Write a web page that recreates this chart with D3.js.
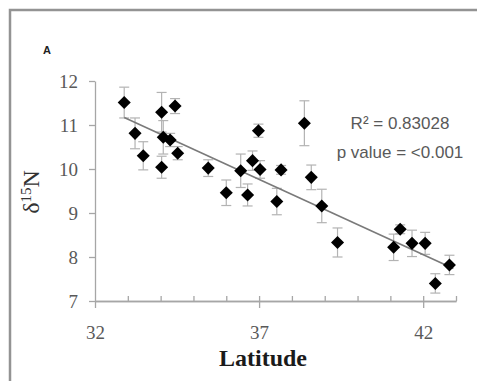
<!DOCTYPE html>
<html>
<head>
<meta charset="utf-8">
<script src="https://cdn.jsdelivr.net/npm/d3@7"></script>
<style>
  body { margin: 0; background: #fff; }
  .serif { font-family: "Liberation Serif", "Times New Roman", "DejaVu Serif", serif; }
  .sans { font-family: "Liberation Sans", Arial, sans-serif; }
</style>
</head>
<body>
<div id="viz"></div>
<script>
// latitude, d15N mean and error
const latitude = [32.89, 33.22, 33.47, 34.03, 34.44, 34.08, 34.03, 34.29, 34.52, 35.45,
                  36.00, 36.44, 36.65, 36.80, 36.98, 37.03, 37.54, 37.67, 38.38, 38.59,
                  38.91, 39.39, 41.10, 41.30, 41.66, 42.06, 42.37, 42.80];
const d15N = [11.51, 10.81, 10.30, 11.29, 11.43, 10.72, 10.04, 10.66, 10.36, 10.02,
              9.46, 9.96, 9.41, 10.19, 10.87, 9.99, 9.26, 9.98, 11.04, 9.81,
              9.16, 8.33, 8.22, 8.63, 8.31, 8.31, 7.40, 7.82];
const errs = [0.35, 0.35, 0.32, 0.45, 0.17, 0.38, 0.25, 0.15, 0.15, 0.19,
              0.29, 0.38, 0.25, 0.22, 0.15, 0.20, 0.30, 0.10, 0.51, 0.28,
              0.38, 0.33, 0.30, 0.10, 0.30, 0.25, 0.22, 0.22];

// trend line end points
const trendLat = [32.89, 42.92];
const trendVal = [11.17, 7.74];

const xMajor = [32, 37, 42];
const xMinor = [33, 34, 35, 36, 37, 38, 39, 40, 41, 42, 43];
const yTicks = [7, 8, 9, 10, 11, 12];

const width = 477, height = 381;

const svg = d3.select("#viz").append("svg")
    .attr("width", width)
    .attr("height", height);

// outer frame
svg.append("rect")
    .attr("x", 10).attr("y", 10)
    .attr("width", 520).attr("height", 420)
    .attr("fill", "none")
    .attr("stroke", "#939393")
    .attr("stroke-width", 2.5);

const x = d3.scaleLinear().domain([32, 43]).range([95, 456]);
const y = d3.scaleLinear().domain([7, 12]).range([301, 81]);

const axisColor = "#a6a6a6";
const labelColor = "#595959";

// y axis
const yAxis = svg.append("g")
    .attr("transform", "translate(" + x(32) + ",0)")
    .call(d3.axisLeft(y).tickValues(yTicks).tickSize(6).tickSizeOuter(0).tickPadding(11)
        .tickFormat(d3.format("d")));
yAxis.attr("font-family", null).attr("font-size", null);
yAxis.selectAll("text")
    .attr("class", "serif")
    .attr("font-size", 19)
    .attr("fill", labelColor);

// x axis: minor ticks inside, major crossing
const xTop = svg.append("g")
    .attr("transform", "translate(0," + y(7) + ")")
    .call(d3.axisTop(x).tickValues(xMinor).tickSize(5).tickSizeOuter(0).tickFormat(""));
const xBottom = svg.append("g")
    .attr("transform", "translate(0," + y(7) + ")")
    .call(d3.axisBottom(x).tickValues(xMajor).tickSize(7).tickSizeOuter(0).tickPadding(18)
        .tickFormat(d3.format("d")));
xBottom.attr("font-family", null).attr("font-size", null);
xBottom.selectAll("text")
    .attr("class", "serif")
    .attr("font-size", 19)
    .attr("fill", labelColor);

svg.selectAll(".domain, .tick line")
    .attr("stroke", axisColor)
    .attr("stroke-width", 1.3);

// axis titles
svg.append("text")
    .attr("class", "serif")
    .attr("x", 263)
    .attr("y", 366)
    .attr("text-anchor", "middle")
    .attr("font-size", 24)
    .attr("font-weight", "bold")
    .attr("fill", "#1a1a1a")
    .text("Latitude");

const yLab = svg.append("text")
    .attr("class", "serif")
    .attr("transform", "translate(39,192) rotate(-90)")
    .attr("text-anchor", "middle")
    .attr("font-size", 24)
    .attr("fill", "#333");
yLab.append("tspan").text("δ");
yLab.append("tspan").attr("dy", -8).attr("font-size", 15).text("15");
yLab.append("tspan").attr("dy", 8).text("N");

// panel letter
svg.append("text")
    .attr("class", "sans")
    .attr("x", 47).attr("y", 54)
    .attr("text-anchor", "middle")
    .attr("font-size", 11)
    .attr("font-weight", "bold")
    .attr("fill", "#222")
    .text("A");

// stats text
svg.append("text")
    .attr("class", "sans")
    .attr("x", 400).attr("y", 129)
    .attr("text-anchor", "middle")
    .attr("font-size", 17)
    .attr("fill", labelColor)
    .text("R² = 0.83028");
svg.append("text")
    .attr("class", "sans")
    .attr("x", 400).attr("y", 158)
    .attr("text-anchor", "middle")
    .attr("font-size", 17)
    .attr("fill", labelColor)
    .text("p value = <0.001");

const pts = latitude.map((d, i) => ({lat: d, v: d15N[i], e: errs[i]}));

// error bars
const eb = svg.append("g").attr("stroke", "#b3b3b3").attr("stroke-width", 1.2);
pts.forEach(function (d) {
    eb.append("line")
        .attr("x1", x(d.lat)).attr("x2", x(d.lat))
        .attr("y1", y(d.v - d.e)).attr("y2", y(d.v + d.e));
    [d.v - d.e, d.v + d.e].forEach(function (v) {
        eb.append("line")
            .attr("x1", x(d.lat) - 5).attr("x2", x(d.lat) + 5)
            .attr("y1", y(v)).attr("y2", y(v));
    });
});

// trend line
svg.append("path")
    .datum(trendLat.map((d, i) => [d, trendVal[i]]))
    .attr("d", d3.line().x(d => x(d[0])).y(d => y(d[1])))
    .attr("stroke", "#7a7a7a")
    .attr("stroke-width", 1.6)
    .attr("fill", "none");

// diamonds
svg.append("g").selectAll("path")
    .data(pts)
    .enter()
    .append("path")
    .attr("d", d3.symbol().type(d3.symbolSquare).size(85))
    .attr("transform", d => "translate(" + x(d.lat) + "," + y(d.v) + ") rotate(45)")
    .attr("fill", "#000");
</script>
</body>
</html>
